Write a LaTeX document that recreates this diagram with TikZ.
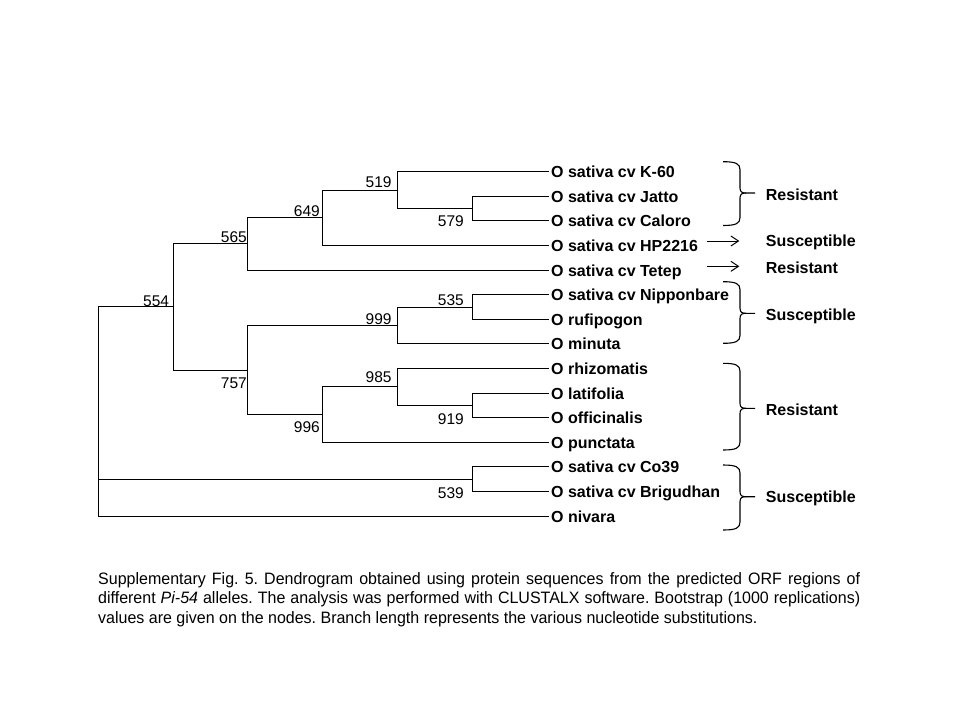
\documentclass[tikz,border=0pt]{standalone}
\usepackage{fontspec}
\setmainfont{Liberation Sans}
\usetikzlibrary{arrows.meta}
\begin{document}
\begin{tikzpicture}[x=1pt,y=-1pt,
  branch/.style={line width=1.1pt, black},
  leaf/.style={anchor=west, font=\fontsize{16}{18}\selectfont\bfseries, inner xsep=2pt, inner ysep=0pt, text height=12.4pt, text depth=0.9pt},
  num/.style={anchor=east, font=\fontsize{15.5}{18}\selectfont, inner sep=0pt, text height=11.1pt, text depth=0pt},
  trait/.style={anchor=west, font=\fontsize{16}{18}\selectfont\bfseries, inner sep=0pt, text height=12.4pt, text depth=0.9pt},
  bracestyle/.style={line width=1.1pt, black},
  arr/.style={line width=1pt, -{Straight Barb[length=7.5pt,width=10pt]}}
]
\useasboundingbox (0,0) rectangle (960,720);
\fill[white] (0,0) rectangle (960,720);

% leaves
\node[leaf] (l0) at (549,171.5) {O sativa cv K-60};
\node[leaf] (l1) at (549,196.5) {O sativa cv Jatto};
\node[leaf] (l2) at (549,220.5) {O sativa cv Caloro};
\node[leaf] (l3) at (549,245.5) {O sativa cv HP2216};
\node[leaf] (l4) at (549,270.5) {O sativa cv Tetep};
\node[leaf] (l5) at (549,294.5) {O sativa cv Nipponbare};
\node[leaf] (l6) at (549,319.5) {O rufipogon};
\node[leaf] (l7) at (549,343.5) {O minuta};
\node[leaf] (l8) at (549,368.5) {O rhizomatis};
\node[leaf] (l9) at (549,393.5) {O latifolia};
\node[leaf] (l10) at (549,417.5) {O officinalis};
\node[leaf] (l11) at (549,442.5) {O punctata};
\node[leaf] (l12) at (549,466.5) {O sativa cv Co39};
\node[leaf] (l13) at (549,491.5) {O sativa cv Brigudhan};
\node[leaf] (l14) at (549,516.5) {O nivara};

% internal nodes
\coordinate (root) at (98.5,411.5);
\coordinate (n554) at (173.5,306.5);
\coordinate (n565) at (247.5,243.5);
\coordinate (n649) at (322.5,217.5);
\coordinate (n519) at (397.5,190.5);
\coordinate (n579) at (472.5,208.5);
\coordinate (n757) at (247.5,370.5);
\coordinate (n999) at (397.5,325.5);
\coordinate (n535) at (472.5,307.5);
\coordinate (n996) at (322.5,414.5);
\coordinate (n985) at (397.5,386.5);
\coordinate (n919) at (472.5,405.5);
\coordinate (n539) at (472.5,479.5);

% branches
\draw[branch] (root) |- (n554);
\draw[branch] (root) |- (n539);
\draw[branch] (root) |- (l14.west);
\draw[branch] (n554) |- (n565);
\draw[branch] (n554) |- (n757);
\draw[branch] (n565) |- (n649);
\draw[branch] (n565) |- (l4.west);
\draw[branch] (n649) |- (n519);
\draw[branch] (n649) |- (l3.west);
\draw[branch] (n519) |- (l0.west);
\draw[branch] (n519) |- (n579);
\draw[branch] (n579) |- (l1.west);
\draw[branch] (n579) |- (l2.west);
\draw[branch] (n757) |- (n999);
\draw[branch] (n757) |- (n996);
\draw[branch] (n999) |- (n535);
\draw[branch] (n999) |- (l7.west);
\draw[branch] (n535) |- (l5.west);
\draw[branch] (n535) |- (l6.west);
\draw[branch] (n996) |- (n985);
\draw[branch] (n996) |- (l11.west);
\draw[branch] (n985) |- (l8.west);
\draw[branch] (n985) |- (n919);
\draw[branch] (n919) |- (l9.west);
\draw[branch] (n919) |- (l10.west);
\draw[branch] (n539) |- (l12.west);
\draw[branch] (n539) |- (l13.west);

% bootstrap values
\node[num] (b519) at (391.7,182.3) {519};
\node[num] (b649) at (320,210.7) {649};
\node[num] (b565) at (247,237.3) {565};
\node[num] (b554) at (169.3,300.7) {554};
\node[num] (b579) at (464,221) {579};
\node[num] (b535) at (464,300) {535};
\node[num] (b999) at (391.7,319) {999};
\node[num] (b757) at (247,383.3) {757};
\node[num] (b985) at (391.7,376.7) {985};
\node[num] (b919) at (464,418.7) {919};
\node[num] (b996) at (320,427.3) {996};
\node[num] (b539) at (464,492.7) {539};

% trait labels
\node[trait] (t1) at (765.7,195) {Resistant};
\node[trait] (t2) at (765.7,240.7) {Susceptible};
\node[trait] (t3) at (765.7,267.3) {Resistant};
\node[trait] (t4) at (765.7,314.3) {Susceptible};
\node[trait] (t5) at (765.7,410) {Resistant};
\node[trait] (t6) at (765.7,496.7) {Susceptible};

% arrows
\coordinate (a1s) at (707.3,241);
\coordinate (a1e) at (739.3,241);
\coordinate (a2s) at (707.3,266.3);
\coordinate (a2e) at (739.3,266.3);
\draw[arr] (a1s) -- (a1e);
\draw[arr] (a2s) -- (a2e);

% braces
\foreach \T/\M/\B in {161.7/193/225.5, 281.7/313.3/343.3, 363.3/408.3/450, 465/496.7/530}{
  \draw[bracestyle] (723,\T) .. controls (736,\T) and (740,\T+2) .. (740,\T+8)
     -- (740,\M-5) .. controls (740,\M-1) and (742,\M) .. (746,\M) -- (755,\M);
  \draw[bracestyle] (746,\M) .. controls (742,\M) and (740,\M+1) .. (740,\M+5)
     -- (740,\B-8) .. controls (740,\B-2) and (736,\B) .. (723,\B);
}

% caption
\node[anchor=base west, inner sep=0pt] (cap) at (98,584) {\parbox[t]{762pt}{\fontsize{16.5}{19.7}\selectfont\addfontfeature{FakeStretch=0.97}\frenchspacing\setlength{\parindent}{0pt}%
\makebox[762pt][s]{Supplementary Fig. 5. Dendrogram obtained using protein sequences from the predicted ORF regions of}\\
\makebox[762pt][s]{different \textit{Pi-54} alleles. The analysis was performed with CLUSTALX software. Bootstrap (1000 replications)}\\
values are given on the nodes. Branch length represents the various nucleotide substitutions.}};
\end{tikzpicture}
\end{document}
